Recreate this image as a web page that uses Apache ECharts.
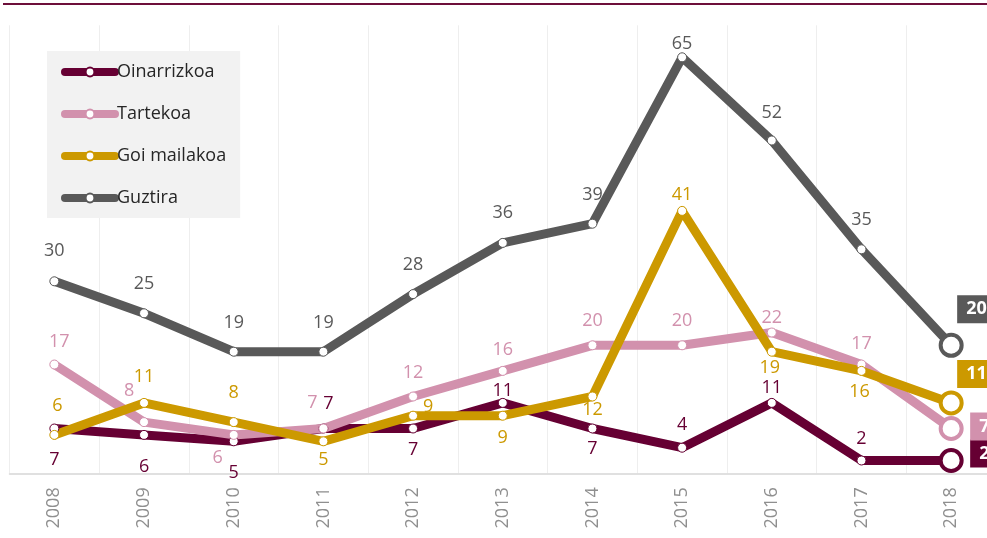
<!DOCTYPE html>
<html>
<head>
<meta charset="utf-8">
<script src="https://cdn.jsdelivr.net/npm/echarts@6/dist/echarts.min.js"></script>
<style>
  html, body { margin: 0; padding: 0; background: #fff; }
  #main { width: 987px; height: 538px; }
</style>
</head>
<body>
<div id="main"></div>
<script>
const years = ['2008', '2009', '2010', '2011', '2012', '2013', '2014', '2015', '2016', '2017', '2018']
const oinarrizkoa = [7, 6, 5, 7, 7, 11, 7, 4, 11, 2, 2]
const tartekoa = [17, 8, 6, 7, 12, 16, 20, 20, 22, 17, 7]
const goiMailakoa = [6, 11, 8, 5, 9, 9, 12, 41, 19, 16, 11]
const guztira = [30, 25, 19, 19, 28, 36, 39, 65, 52, 35, 20]

const font = '"Open Sans", "Noto Sans", sans-serif'

// where each value label sits, relative to its point (Excel labels were moved by hand)
const labelShift = {
    Oinarrizkoa: [[0, 31], [0, 32], [0, 32], [5, -25], [0, 21], [0, -12], [0, 20], [0, -23], [0, -15], [0, -22], [19, -7]],
    Tartekoa: [[5, -23], [-15, -31], [-16, 23], [-11, -26], [0, -24], [0, -21], [0, -24], [0, -24], [0, -15], [0, -21], [19, -2]],
    'Goi mailakoa': [[3, -29], [0, -26], [0, -29], [0, 19], [15, -9], [0, 22], [0, 13], [0, -16], [-2, 16], [-2, 21], [6, -29]],
    Guztira: [[0, -30], [0, -29], [0, -29], [0, -29], [0, -29], [0, -30], [0, -29], [0, -13], [0, -28], [0, -29], [6, -36]]
}

const makeSeries = (name, values, color) => {
    const shift = labelShift[name]
    const last = values.length - 1
    return {
        name: name,
        type: 'line',
        color: color,
        symbol: 'circle',
        symbolSize: 9,
        lineStyle: { color: color, width: 9, cap: 'round', join: 'round' },
        itemStyle: { color: '#fff', borderColor: color, borderWidth: 1 },
        label: {
            show: true,
            position: 'inside',
            fontFamily: font,
            fontSize: 18,
            color: color
        },
        data: values.map((v, i) => {
            if (i === last) {
                return {
                    value: v,
                    symbolSize: 21,
                    itemStyle: { color: '#fff', borderColor: color, borderWidth: 4 },
                    label: {
                        offset: shift[i],
                        align: 'left',
                        verticalAlign: 'middle',
                        color: '#fff',
                        fontWeight: 'bold',
                        backgroundColor: color,
                        padding: [5, 10, 4, 9],
                        lineHeight: 19
                    }
                }
            }
            return { value: v, label: { offset: shift[i] } }
        })
    }
}

const chart = echarts.init(document.getElementById('main'))
const option = {
    animation: false,
    // plot area runs a little past the right edge, as in the original
    grid: { left: 9.5, right: -9, top: 25.3, bottom: 64.7, outerBoundsMode: 'none' },
    graphic: [{
        type: 'line',
        shape: { x1: 3, y1: 4, x2: 987, y2: 4 },
        style: { stroke: '#6d0f3a', lineWidth: 2 }
    }],
    legend: {
        orient: 'vertical',
        left: 47,
        top: 51,
        padding: [12, 14, 11, 14],
        itemGap: 24,
        itemWidth: 50,
        itemHeight: 11,
        backgroundColor: '#f2f2f2',
        lineStyle: { width: 8, cap: 'round' },
        textStyle: { fontFamily: font, fontSize: 18, color: '#262626', padding: [0, 0, 0, -3] },
        data: ['Oinarrizkoa', 'Tartekoa', 'Goi mailakoa', 'Guztira']
    },
    xAxis: {
        type: 'category',
        data: years,
        boundaryGap: true,
        axisLine: { lineStyle: { color: '#d6d6d6', width: 1.5 } },
        axisTick: { show: false },
        axisLabel: { rotate: 90, margin: 14, fontFamily: font, fontSize: 18, color: '#8f8f8f' },
        splitLine: { show: true, lineStyle: { color: '#eeeeee', width: 1 } }
    },
    yAxis: {
        type: 'value',
        min: 0,
        max: 70,
        show: false,
        splitLine: { show: false }
    },
    series: [
        makeSeries('Oinarrizkoa', oinarrizkoa, '#660033'),
        makeSeries('Tartekoa', tartekoa, '#d291ad'),
        makeSeries('Goi mailakoa', goiMailakoa, '#cc9900'),
        makeSeries('Guztira', guztira, '#595959')
    ]
}
chart.setOption(option)
</script>
</body>
</html>
